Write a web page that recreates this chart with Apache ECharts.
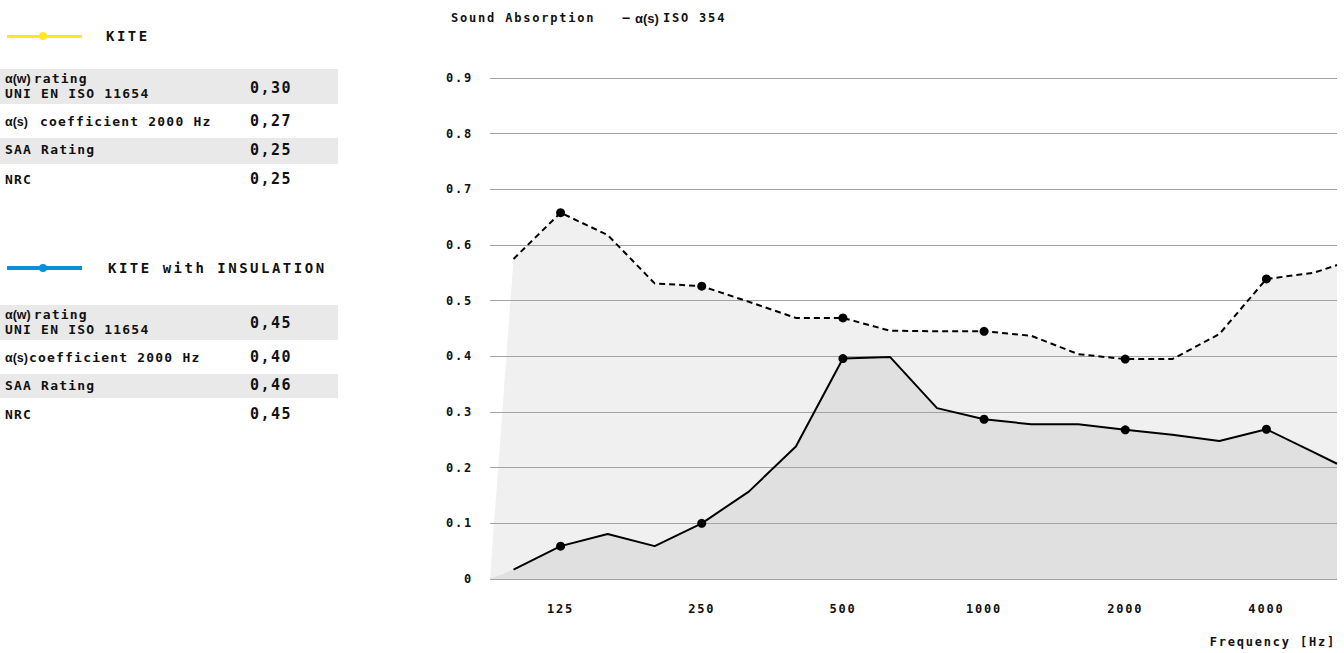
<!DOCTYPE html>
<html>
<head>
<meta charset="utf-8">
<script src="https://cdn.jsdelivr.net/npm/echarts@6/dist/echarts.min.js"></script>
<style>
  html, body { margin: 0; padding: 0; background: #fff; }
  #chart { position: absolute; left: 0; top: 0; width: 1344px; height: 653px; }
  #chart text { letter-spacing: 1.8px; }
  #chart text[style*="Liberation"], #chart text[font-family*="Liberation"] { letter-spacing: 0; }
  #panel { position: absolute; left: 0; top: 0; width: 338px; height: 653px;
    font-family: "DejaVu Sans Mono", monospace; font-weight: bold; color: #111; }
  #panel div { position: absolute; white-space: pre; }
  .line { height: 3px; width: 75px; left: 7px; }
  .dot { width: 8px; height: 8px; border-radius: 50%; }
  .legend-name { font-size: 14px; line-height: 16px; letter-spacing: 2.5px; }
  .band { left: 0; width: 338px; background: #e9e9e9; }
  .txt { left: 5px; font-size: 13px; line-height: 16px; letter-spacing: 1.2px; }
  .val { left: 250px; font-size: 15px; line-height: 18px; letter-spacing: 1.5px; }
  .alpha { font-family: "Liberation Sans", sans-serif; font-weight: bold; letter-spacing: 0; font-size: 12.5px; margin-right: 3px; }
</style>
</head>
<body>
<div id="chart"></div>
<div id="panel">
  <!-- KITE -->
  <div class="line" style="top:35px;background:#ffe81c;"></div>
  <div class="dot" style="left:39px;top:32px;background:#ffe81c;"></div>
  <div class="legend-name" style="left:106px;top:28px;">KITE</div>

  <div class="band" style="top:69px;height:35px;"></div>
  <div class="txt" style="top:71px;"><span class="alpha">α(w)</span>rating</div>
  <div class="txt" style="top:86px;">UNI EN ISO 11654</div>
  <div class="val" style="top:79px;">0,30</div>
  <div class="txt" style="top:114px;"><span class="alpha">α(s)</span> coefficient 2000 Hz</div>
  <div class="val" style="top:112px;">0,27</div>
  <div class="band" style="top:138px;height:26px;"></div>
  <div class="txt" style="top:142px;">SAA Rating</div>
  <div class="val" style="top:141px;">0,25</div>
  <div class="txt" style="top:172px;">NRC</div>
  <div class="val" style="top:170px;">0,25</div>

  <!-- KITE with INSULATION -->
  <div class="line" style="top:266px;height:4px;background:#0a8fdb;"></div>
  <div class="dot" style="left:39px;top:264px;background:#0a8fdb;"></div>
  <div class="legend-name" style="left:108px;top:260px;">KITE with INSULATION</div>

  <div class="band" style="top:305px;height:35px;"></div>
  <div class="txt" style="top:307px;"><span class="alpha">α(w)</span>rating</div>
  <div class="txt" style="top:322px;">UNI EN ISO 11654</div>
  <div class="val" style="top:314px;">0,45</div>
  <div class="txt" style="top:350px;"><span class="alpha" style="margin-right:1px">α(s)</span>coefficient 2000 Hz</div>
  <div class="val" style="top:348px;">0,40</div>
  <div class="band" style="top:374px;height:24px;"></div>
  <div class="txt" style="top:378px;">SAA Rating</div>
  <div class="val" style="top:376px;">0,46</div>
  <div class="txt" style="top:407px;">NRC</div>
  <div class="val" style="top:405px;">0,45</div>
</div>

<script>
// 1/3 octave bands, Hz
const bands = ['100', '125', '160', '200', '250', '315', '400', '500', '630',
  '800', '1000', '1250', '1600', '2000', '2500', '3150', '4000', '5000'];
// only octave centres get a label and a dot
const octaveBands = ['125', '250', '500', '1000', '2000', '4000'];

// α(s) values
const kiteInsulation = [0.575, 0.658, 0.618, 0.531, 0.526, 0.498, 0.469, 0.469, 0.446,
  0.445, 0.445, 0.437, 0.404, 0.395, 0.395, 0.440, 0.539, 0.550];
const kite = [0.017, 0.059, 0.081, 0.059, 0.100, 0.157, 0.238, 0.396, 0.399,
  0.307, 0.287, 0.278, 0.278, 0.268, 0.259, 0.248, 0.269, 0.228];
// where each curve leaves the plot on the right side
const kiteInsulationEdge = 0.564;
const kiteEdge = 0.207;

const yMax = 0.9;
const yStep = 0.1;

const FONT = '"DejaVu Sans Mono", monospace';
const xMin = -0.5;
const xMax = bands.length - 0.5;

function linePoints(values, edge) {
  const pts = values.map((v, i) => ({
    value: [i, v],
    symbol: octaveBands.includes(bands[i]) ? 'circle' : 'none'
  }));
  pts.push({ value: [xMax, edge], symbol: 'none' });
  return pts;
}
function areaPoints(values, edge) {
  // fill starts from the bottom left corner of the plot
  return [[xMin, 0]].concat(values.map((v, i) => [i, v]), [[xMax, edge]]);
}

function label(text, x, y, align, font) {
  return {
    type: 'text', x: x, y: y, silent: true,
    style: {
      text: text, fill: '#111',
      font: font || 'bold 12px "DejaVu Sans Mono"',
      align: align, textAlign: align,
      verticalAlign: 'middle', textVerticalAlign: 'middle'
    }
  };
}

const chart = echarts.init(document.getElementById('chart'), null, { renderer: 'svg' });

const option = {
  animation: false,
  graphic: [
    label('Sound Absorption\u00a0\u00a0\u00a0–', 451, 18, 'left'),
    label('α(s)', 635, 18, 'left', 'bold 13px "Liberation Sans"'),
    label('ISO 354', 663, 18, 'left'),
    label('Frequency [Hz]', 1336, 642, 'right')
  ],
  grid: { left: 490, right: 7, top: 78, bottom: 74 },
  xAxis: {
    type: 'value',
    min: xMin,
    max: xMax,
    interval: 0.5,
    axisLine: { show: false },
    axisTick: { show: false },
    splitLine: { show: false },
    axisLabel: {
      margin: 24,
      fontFamily: FONT, fontWeight: 'bold', fontSize: 12, color: '#111',
      showMinLabel: false, showMaxLabel: false,
      formatter: v => (Number.isInteger(v) && octaveBands.includes(bands[v])) ? bands[v] : ''
    }
  },
  yAxis: {
    type: 'value',
    min: 0,
    max: yMax,
    interval: yStep,
    z: 2,
    axisLine: { show: false },
    axisTick: { show: false },
    axisLabel: {
      margin: 17,
      fontFamily: FONT, fontWeight: 'bold', fontSize: 12, color: '#111',
      formatter: v => (v === 0 ? '0' : v.toFixed(1))
    },
    splitLine: { lineStyle: { color: '#a3a3a3', width: 1 } }
  },
  series: [
    {
      type: 'line', z: 1, silent: true, symbol: 'none',
      data: areaPoints(kiteInsulation, kiteInsulationEdge),
      lineStyle: { width: 0 },
      areaStyle: { color: '#f0f0f0', opacity: 1 }
    },
    {
      type: 'line', z: 1, silent: true, symbol: 'none',
      data: areaPoints(kite, kiteEdge),
      lineStyle: { width: 0 },
      areaStyle: { color: '#e0e0e0', opacity: 1 }
    },
    {
      name: 'KITE with INSULATION',
      type: 'line', z: 3,
      data: linePoints(kiteInsulation, kiteInsulationEdge),
      showSymbol: true, showAllSymbol: true, symbolSize: 9,
      itemStyle: { color: '#000' },
      lineStyle: { color: '#000', width: 2, type: [6, 4] }
    },
    {
      name: 'KITE',
      type: 'line', z: 3,
      data: linePoints(kite, kiteEdge),
      showSymbol: true, showAllSymbol: true, symbolSize: 9,
      itemStyle: { color: '#000' },
      lineStyle: { color: '#000', width: 2 }
    }
  ]
};

chart.setOption(option);
</script>
</body>
</html>
